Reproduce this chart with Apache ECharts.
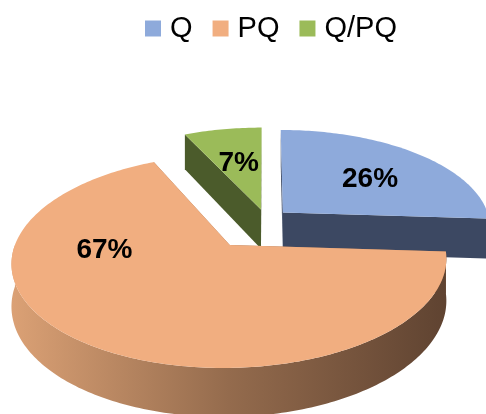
<!DOCTYPE html>
<html>
<head>
<meta charset="utf-8">
<script src="https://cdn.jsdelivr.net/npm/echarts@6/dist/echarts.min.js"></script>
<style>
    html, body { margin: 0; padding: 0; background: #fff; }
    #pie { width: 486px; height: 414px; }
</style>
</head>
<body>
<div id="pie"></div>
<script>
var categories = ['Q', 'PQ', 'Q/PQ'];
var shares = [26, 67, 7];

// styles, kept apart from the data
var topColors = ['#8eaadb', '#f1ae80', '#9bbb59'];
var sideColors = ['#3c4862', '#a07252', '#4b5b2b'];
var explode = [0.113, 0.3, 0.113];
var labelPlace = [[3.5, 0.59], [51, 0.58], [0, 0.55]];   // angle shift, radius fraction
var drawOrder = [2, 0, 1];

// fake 3d view
var CX = 266, CY = 220, RX = 207, RY = 96.8, K = 0.147, H = 40;

function rad(a) {
    return a * Math.PI / 180;
}

function project(x, y, z) {
    var s = 1 / (1 + K * y);
    return [CX + RX * x * s, CY - RY * y * s + z * s];
}

function rimPoint(o, a, r, z) {
    return project(o[0] + r * Math.sin(rad(a)), o[1] + r * Math.cos(rad(a)), z);
}

function arc(o, a0, a1, z) {
    var pts = [];
    for (var a = a0; a < a1; a += 1) {
        pts.push(rimPoint(o, a, 1, z));
    }
    pts.push(rimPoint(o, a1, 1, z));
    return pts;
}

function renderSlice(params, api) {
    var i = api.value(0);
    var total = 0, before = 0;
    for (var j = 0; j < shares.length; j++) {
        total += shares[j];
        if (j < i) before += shares[j];
    }
    var a0 = before / total * 360;
    var a1 = (before + shares[i]) / total * 360;
    var mid = (a0 + a1) / 2;
    var o = [explode[i] * Math.sin(rad(mid)), explode[i] * Math.cos(rad(mid))];
    var apex = project(o[0], o[1], 0);
    var apexB = project(o[0], o[1], H);
    var children = [];

    // cut faces
    [a0, a1].forEach(function (a) {
        children.push({
            type: 'polygon',
            shape: {points: [apex, rimPoint(o, a, 1, 0), rimPoint(o, a, 1, H), apexB]},
            style: {fill: sideColors[i]}
        });
    });

    // outer rim, front half only
    var r0 = Math.max(a0, 90), r1 = Math.min(a1, 270);
    if (r1 > r0) {
        var rim = arc(o, r0, r1, 0).concat(arc(o, r0, r1, H).reverse());
        var fill = sideColors[i];
        if (i === 1) {
            fill = new echarts.graphic.LinearGradient(0, 0, 1, 0, [
                {offset: 0, color: '#dba175'},
                {offset: 0.5, color: '#946b4d'},
                {offset: 1, color: '#5f4331'}
            ]);
        }
        children.push({type: 'polygon', shape: {points: rim}, style: {fill: fill}});
    }

    // top
    children.push({
        type: 'polygon',
        shape: {points: [apex].concat(arc(o, a0, a1, 0))},
        style: {fill: topColors[i]}
    });

    // label
    var lp = rimPoint(o, mid + labelPlace[i][0], labelPlace[i][1], 0);
    children.push({
        type: 'text',
        x: lp[0],
        y: lp[1],
        style: {
            text: shares[i] + '%',
            fill: '#000',
            font: 'bold 28px "Liberation Sans", Arial, sans-serif',
            align: 'center',
            verticalAlign: 'middle'
        }
    });

    return {type: 'group', children: children};
}

var chart = echarts.init(document.getElementById('pie'));

var series = drawOrder.map(function (i) {
    return {
        type: 'custom',
        name: categories[i],
        coordinateSystem: 'none',
        renderItem: renderSlice,
        itemStyle: {color: topColors[i]},
        silent: true,
        data: [[i]]
    };
});

chart.setOption({
    animation: false,
    legend: {
        data: categories,
        icon: 'rect',
        left: 140,
        top: 9,
        itemWidth: 16,
        itemHeight: 16,
        itemGap: 20,
        textStyle: {
            fontSize: 29,
            fontFamily: '"Liberation Sans", Arial, sans-serif',
            color: '#000',
            padding: [0, 0, 0, 4]
        }
    },
    series: series
});
</script>
</body>
</html>
